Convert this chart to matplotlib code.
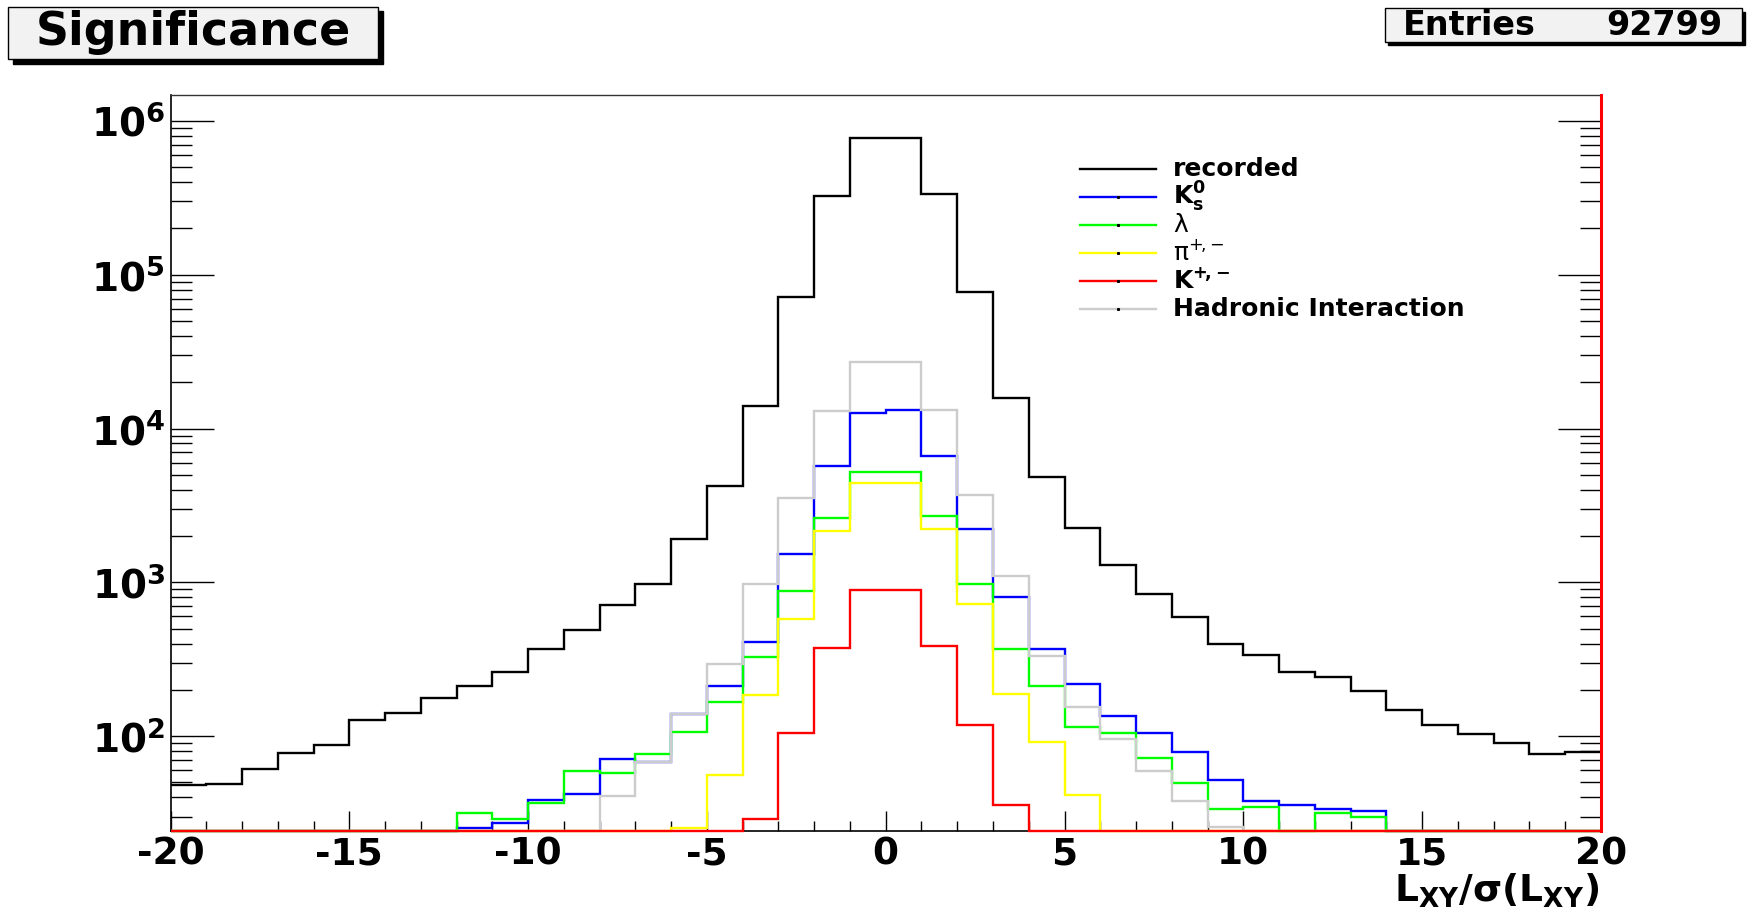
import numpy as np
import matplotlib
matplotlib.use('Agg')
import matplotlib.pyplot as plt
from matplotlib.patches import Rectangle
from matplotlib.ticker import LogLocator, MultipleLocator, NullFormatter

plt.rcParams['font.family'] = ['DejaVu Sans']
plt.rcParams['mathtext.fontset'] = 'dejavusans'

# bin edges -20 .. 20, width 1
edges = np.arange(-20, 21)

recorded = [48, 49, 61, 78, 88, 127, 141, 177, 211, 262,
            369, 488, 710, 975, 1920, 4200, 14000, 71300, 326000, 775000,
            775000, 334000, 76900, 15700, 4850, 2250, 1290, 840, 593, 400,
            339, 262, 244, 196, 147, 119, 104, 90, 77, 79]
k0s = [0, 0, 0, 0, 0, 0, 0, 0, 25.4, 27.4,
       38.4, 41.8, 71.3, 68.2, 140, 211, 407, 1535, 5730, 12600,
       13100, 6580, 2210, 800, 369, 220, 135, 105, 78.7, 51.8,
       37.8, 35.5, 33.4, 32.6, 0, 0, 0, 0, 0, 0]
lam = [0, 0, 0, 0, 0, 0, 0, 0, 31.8, 28.8,
       36.9, 59.3, 57.3, 76.9, 106, 166, 327, 883, 2620, 5180,
       5180, 2680, 975, 369, 211, 115, 105, 72, 49.8, 33.8,
       34.8, 0, 31.5, 29.8, 0, 0, 0, 0, 0, 0]
pion = [0, 0, 0, 0, 0, 0, 0, 0, 0, 0,
        0, 0, 0, 0, 25.4, 56, 185, 581, 2170, 4410,
        4410, 2210, 727, 187, 91.5, 41.4, 0, 0, 0, 0,
        0, 0, 0, 0, 0, 0, 0, 0, 0, 0]
kaon = [0, 0, 0, 0, 0, 0, 0, 0, 0, 0,
        0, 0, 0, 0, 0, 0, 28.8, 105, 375, 896,
        896, 384, 119, 35.5, 0, 0, 0, 0, 0, 0,
        0, 0, 0, 0, 0, 0, 0, 0, 0, 0]
hadronic = [0, 0, 0, 0, 0, 0, 0, 0, 0, 0,
            0, 0, 40.7, 68.2, 140, 295, 975, 3530, 12900, 27200,
            27200, 13100, 3700, 1100, 334, 155, 96, 59.8, 37.8, 25.8,
            0, 0, 0, 0, 0, 0, 0, 0, 0, 0]

labels = ['recorded', r'$\mathbf{K_{s}^{0}}$', r'$\mathrm{\lambda}$',
          r'$\mathrm{\pi}^{+\!,\!-}$', r'$\mathbf{K^{+\!,\!-}}$', 'Hadronic Interaction']
colors = ['black', '#0000ff', '#00ff00', '#ffff00', '#ff0000', '#cccccc']
entries = 92799
xticks = list(range(-20, 21, 5))

ymin, ymax = 24.2, 1.48e6

fig = plt.figure(figsize=(17.47, 9.18), dpi=100)
ax = fig.add_axes([0.0976, 0.0948, 0.8188, 0.8021])

series = [recorded, k0s, lam, pion, kaon, hadronic]
order = [0, 1, 2, 3, 5, 4]   # red drawn last, like the reference
for i in order:
    vals = np.clip(np.array(series[i], dtype=float), ymin, None)
    ax.stairs(vals, edges, baseline=None, color=colors[i], lw=1.7,
              zorder=3, clip_on=False)

ax.axvline(20, color='red', lw=2.2, zorder=4, clip_on=False)

ax.set_xlim(-20, 20)
ax.set_yscale('log')
ax.set_ylim(ymin, ymax)

ax.set_xticks(xticks)
ax.set_xticklabels([str(v) for v in xticks], fontsize=27, fontweight='bold')
ax.xaxis.set_minor_locator(MultipleLocator(1))

yt = [1e2, 1e3, 1e4, 1e5, 1e6]
ax.set_yticks(yt)
ax.set_yticklabels([r'$\mathbf{10^{%d}}$' % int(np.log10(v)) for v in yt], fontsize=28)
ax.yaxis.set_minor_locator(LogLocator(base=10, subs=np.arange(2, 10)))
ax.yaxis.set_minor_formatter(NullFormatter())

ax.tick_params(axis='x', which='major', direction='in', length=14.5, width=1.0,
               top=False, pad=4)
ax.tick_params(axis='x', which='minor', direction='in', length=7.5, width=1.0, top=False)
ax.tick_params(axis='y', which='major', direction='in', length=31, width=1.0,
               left=True, right=True, pad=4)
ax.tick_params(axis='y', which='minor', direction='in', length=15, width=1.0,
               left=True, right=True)

for s in ['left', 'bottom']:
    ax.spines[s].set_linewidth(1.2)
ax.spines['top'].set_linewidth(1.0)
ax.spines['top'].set_color('#333333')

# legend drawn by hand, ROOT style
rows = [0.899, 0.861, 0.823, 0.785, 0.747, 0.709]
for lab, col, yy, k in zip(labels, colors, rows, range(6)):
    ax.plot([0.636, 0.689], [yy, yy], color=col, lw=1.7, transform=ax.transAxes,
            clip_on=False, zorder=5)
    if k > 0:
        ax.plot([0.6625], [yy], marker='s', ms=1.2, color='black', transform=ax.transAxes,
                zorder=6)
    ax.text(0.701, yy, lab, transform=ax.transAxes, fontsize=18, fontweight='bold',
            va='center', ha='left')

fig.text(0.9153, 0.0175, r'$\mathbf{L_{XY}/\sigma(L_{XY})}$', fontsize=27,
         ha='right', va='baseline')

# title box and stats box with shadow
def shadow_box(x0, y0, x1, y1, off):
    W, H = 1747.0, 918.0
    fig.patches.append(Rectangle(((x0 + off) / W, 1 - (y1 + off) / H), (x1 - x0) / W,
                                 (y1 - y0) / H, transform=fig.transFigure,
                                 facecolor='black', edgecolor='black', zorder=1))
    fig.patches.append(Rectangle((x0 / W, 1 - y1 / H), (x1 - x0) / W, (y1 - y0) / H,
                                 transform=fig.transFigure, facecolor='#f2f2f2',
                                 edgecolor='black', lw=1.0, zorder=2))

shadow_box(8.3, 6.7, 378, 59.3, 4.5)
shadow_box(1385, 8.3, 1741.7, 41.7, 3.3)

fig.text(193 / 1747, 1 - 45 / 918, 'Significance', fontsize=33, fontweight='bold',
         ha='center', va='baseline', zorder=3)
fig.text(1403 / 1747, 1 - 35 / 918, 'Entries', fontsize=24, fontweight='bold',
         ha='left', va='baseline', zorder=3)
fig.text(1722 / 1747, 1 - 35 / 918, str(entries), fontsize=24, fontweight='bold',
         ha='right', va='baseline', zorder=3)

fig.savefig('out.png', dpi=100, facecolor='white')
